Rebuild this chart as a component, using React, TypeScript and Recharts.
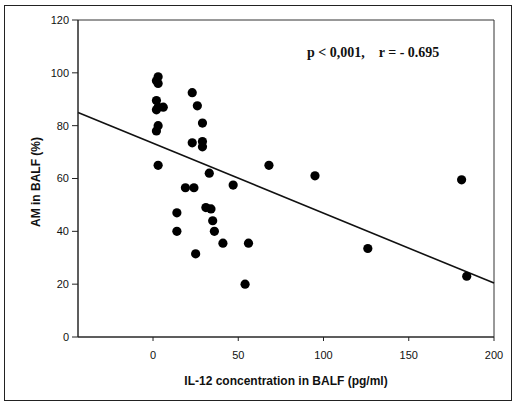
import { ScatterChart, Scatter, XAxis, YAxis, ReferenceLine, ReferenceArea } from "recharts";

// IL-12 (pg/ml) vs AM (%)
const il12 = [3, 2, 3, 2, 3, 6, 2, 3, 2, 3, 23, 26, 29, 23, 29, 29, 33, 47, 19, 24, 31, 34, 14, 35, 14, 36, 41, 25, 56, 54, 68, 95, 126, 181, 184];
const am = [98.5, 97, 96, 89.5, 87, 87, 86, 80, 78, 65, 92.5, 87.5, 81, 73.5, 74, 72, 62, 57.5, 56.5, 56.5, 49, 48.5, 47, 44, 40, 40, 35.5, 31.5, 35.5, 20, 65, 61, 33.5, 59.5, 23];
const xTicks = [0, 50, 100, 150, 200];
const yTicks = [0, 20, 40, 60, 80, 100, 120];
const fitStart = { x: -44, y: 85 };
const fitEnd = { x: 200, y: 20.4 };

const points = il12.map((x, i) => ({ x, y: am[i] }));

const tickStyle = { fontFamily: "Arial, 'Liberation Sans', sans-serif", fontSize: 11, fill: "#111" };
const titleStyle = { fontFamily: "Arial, 'Liberation Sans', sans-serif", fontSize: 12, fontWeight: 700, fill: "#111" };

export default function App() {
  return (
    <div style={{ position: "absolute", left: 0, top: 0, width: 518, height: 404, background: "#fff" }}>
      <div style={{ position: "absolute", left: 4, top: 5, width: 508, height: 396, border: "1.5px solid #222", boxSizing: "border-box" }} />
      <div
        style={{
          position: "absolute", left: 307, top: 45, fontFamily: "'Liberation Serif', 'DejaVu Serif', serif",
          fontWeight: 700, fontSize: 14, whiteSpace: "pre", color: "#111",
        }}
      >
        {"p < 0,001,    r = - 0.695"}
      </div>
      <ScatterChart width={518} height={404} margin={{ top: 20, right: 24, left: 0, bottom: 0 }}>
        <XAxis
          type="number" dataKey="x" domain={[-44, 200]} ticks={xTicks} allowDataOverflow
          height={67} tickSize={4} tickMargin={10} tick={tickStyle} stroke="#222"
          label={{ value: "IL-12 concentration in BALF (pg/ml)", position: "insideBottom", offset: 19, style: titleStyle }}
        />
        <YAxis
          type="number" dataKey="y" domain={[0, 120]} ticks={yTicks} allowDataOverflow
          width={78} tickSize={6} tickMargin={3} tick={tickStyle} stroke="#222"
          label={{
            content: () => (
              <text x={36} y={182} transform="rotate(-90, 36, 182)" textAnchor="middle" dominantBaseline="central" style={titleStyle}>
                AM  in BALF (%)
              </text>
            ),
          }}
        />
        <ReferenceArea x1={-44} x2={200} y1={0} y2={120} fill="none" stroke="#333" strokeWidth={1} ifOverflow="visible" />
        <ReferenceLine segment={[fitStart, fitEnd]} stroke="#111" strokeWidth={1.6} ifOverflow="visible" />
        <Scatter data={points} fill="#000" isAnimationActive={false} shape={(p: any) => <circle cx={p.cx} cy={p.cy} r={4.6} fill="#000" />} />
      </ScatterChart>
    </div>
  );
}
